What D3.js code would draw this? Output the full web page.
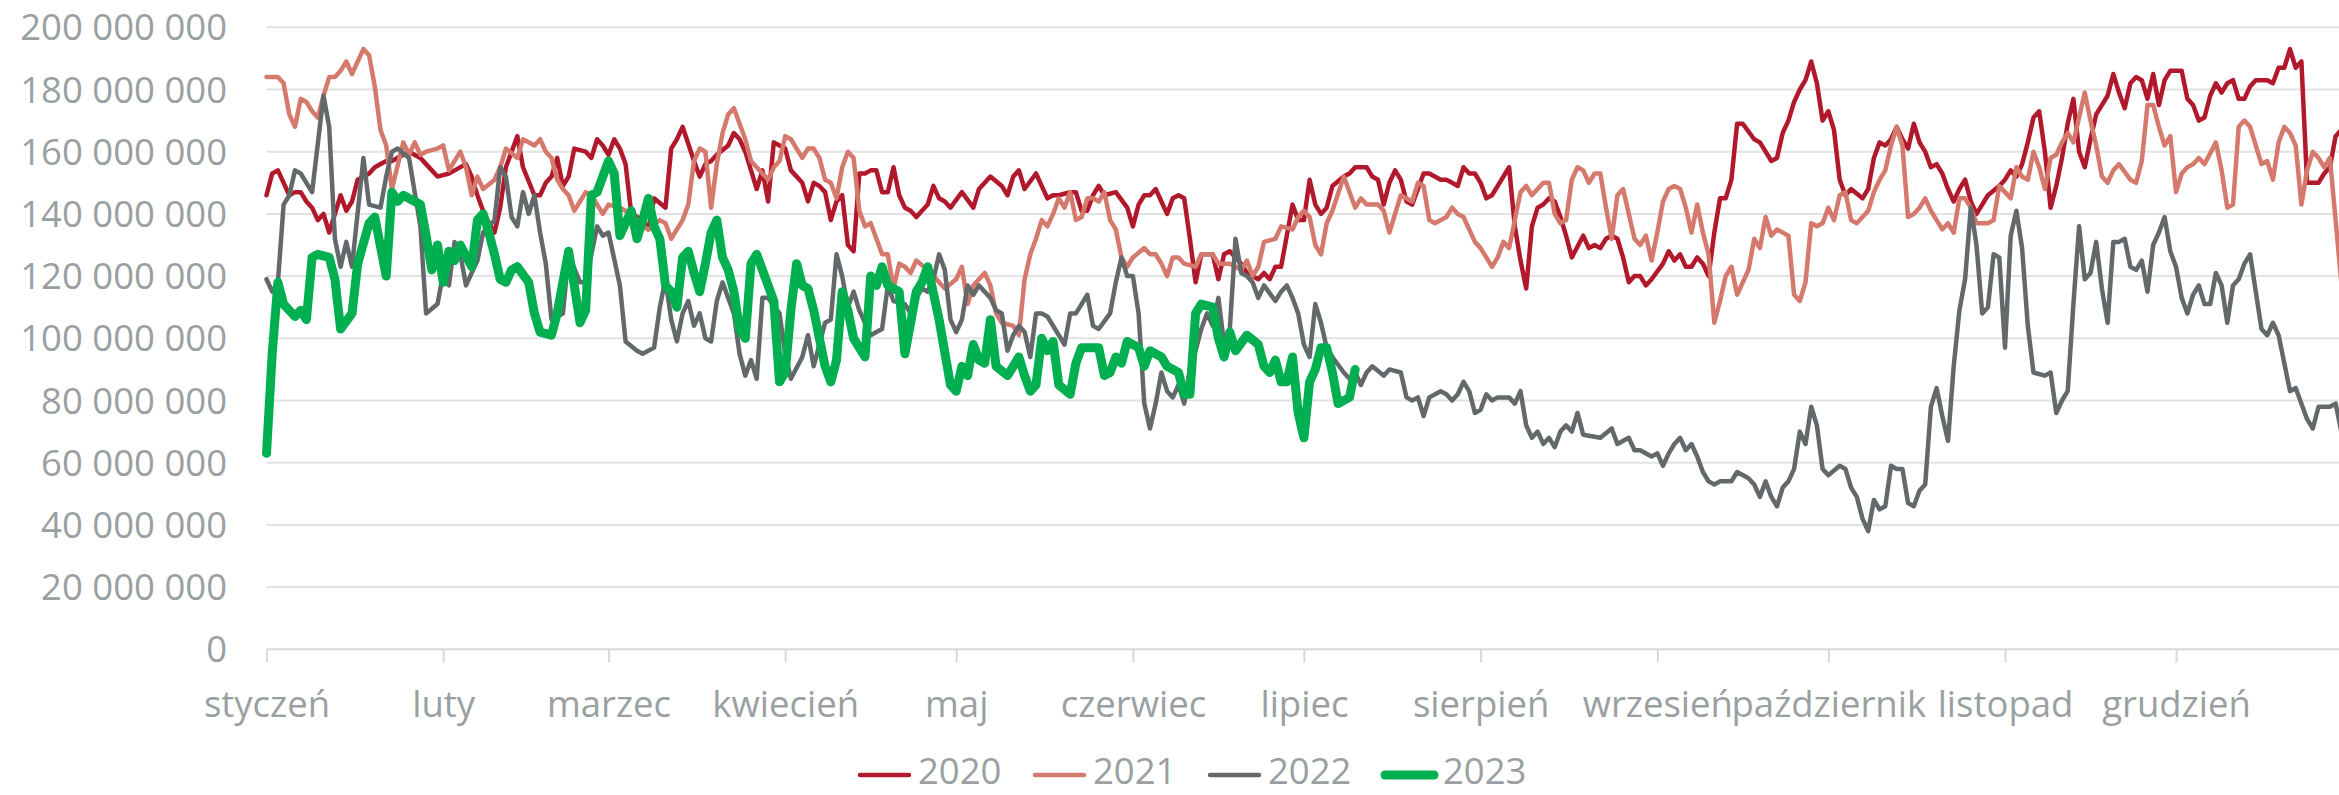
<!DOCTYPE html>
<html>
<head>
<meta charset="utf-8">
<script src="https://cdn.jsdelivr.net/npm/d3@7"></script>
<style>
  html, body { margin: 0; padding: 0; background: #ffffff; }
  svg { display: block; font-family: "Open Sans", "DejaVu Sans", sans-serif; }
</style>
</head>
<body>
<svg id="chart" width="2339" height="795"></svg>
<script>
// ---- data -------------------------------------------------------------
// Month labels and the day-of-year on which each month starts.
const monthLabels = ["styczeń", "luty", "marzec", "kwiecień", "maj", "czerwiec",
  "lipiec", "sierpień", "wrzesień", "październik", "listopad", "grudzień"];
const monthStartDays = [0, 31, 60, 91, 121, 152, 182, 213, 244, 274, 305, 335];

// Value axis ticks, in millions.
const yTicks = [0, 20, 40, 60, 80, 100, 120, 140, 160, 180, 200];

const seriesNames = ["2020", "2021", "2022", "2023"];
const seriesColors = ["#B2182B", "#D4796B", "#63686B", "#00B050"];

// Daily values: [day of year, value in millions].
const values2020 = [[0,146],[1,153],[2,154],[4,146],[5,147],[6,147],[7,144],[8,142],[9,138],[10,140],[11,134],[13,146],[14,141],[15,144],[16,151],[18,153],[19,155],[21,157],[22,157],[24,159],[25,160],[27,158],[28,156],[30,152],[32,153],[33,154],[35,156],[36,152],[37,146],[38,141],[39,137],[40,134],[41,142],[42,155],[44,165],[45,155],[47,146],[48,146],[49,150],[50,152],[51,158],[52,149],[53,152],[54,161],[56,160],[57,158],[58,164],[59,162],[60,159],[61,164],[62,161],[63,156],[64,140],[65,139],[66,138],[67,135],[68,145],[70,142],[71,161],[72,164],[73,168],[75,157],[76,152],[77,156],[78,157],[79,159],[81,162],[82,166],[83,164],[84,160],[85,154],[86,148],[87,154],[88,144],[89,163],[90,162],[91,161],[92,154],[94,150],[95,144],[96,150],[97,149],[98,147],[99,138],[100,144],[101,146],[102,130],[103,128],[104,153],[105,153],[106,154],[107,154],[108,147],[109,147],[110,155],[111,146],[112,142],[113,141],[114,139],[116,143],[117,149],[118,145],[119,144],[120,142],[122,147],[124,142],[125,148],[127,152],[129,149],[130,146],[131,152],[132,154],[133,148],[135,153],[136,149],[137,145],[138,146],[139,146],[141,147],[142,147],[143,141],[144,141],[145,146],[146,149],[147,146],[149,147],[151,142],[152,136],[153,143],[154,146],[155,146],[156,148],[157,144],[158,140],[159,145],[160,146],[161,145],[162,132],[163,118],[164,127],[165,127],[166,127],[167,119],[168,127],[169,128],[171,124],[172,121],[174,119],[175,121],[176,119],[177,123],[178,123],[180,143],[181,138],[182,138],[183,151],[184,143],[185,140],[186,142],[187,149],[189,152],[190,153],[191,155],[192,155],[193,155],[194,152],[195,151],[196,143],[197,150],[198,154],[199,151],[200,144],[201,143],[203,153],[204,153],[206,151],[207,151],[208,150],[209,149],[210,155],[211,153],[212,153],[213,150],[214,145],[215,146],[218,155],[219,136],[220,125],[221,116],[222,136],[223,142],[224,143],[225,145],[226,144],[227,139],[228,133],[229,126],[231,133],[232,129],[233,130],[234,129],[235,132],[236,133],[237,132],[238,126],[239,118],[240,120],[241,120],[242,117],[243,119],[245,124],[246,128],[247,125],[248,127],[249,123],[250,123],[251,126],[252,124],[253,120],[254,134],[255,145],[256,145],[257,151],[258,169],[259,169],[261,164],[262,163],[263,160],[264,157],[265,158],[266,166],[267,170],[268,176],[269,180],[270,183],[271,189],[272,182],[273,170],[274,173],[275,167],[276,151],[277,146],[278,148],[280,145],[281,148],[282,158],[283,163],[284,162],[285,164],[286,168],[287,164],[288,161],[289,169],[290,163],[291,160],[292,155],[293,156],[294,153],[295,148],[296,144],[297,148],[298,151],[299,144],[300,140],[301,143],[302,146],[304,149],[305,151],[306,154],[307,152],[308,156],[309,163],[310,171],[311,173],[312,160],[313,142],[314,149],[315,158],[316,169],[317,177],[318,160],[319,155],[320,164],[321,172],[322,175],[323,178],[324,185],[325,179],[326,174],[327,182],[328,184],[329,183],[330,177],[331,185],[332,175],[333,183],[334,186],[336,186],[337,177],[338,175],[339,170],[340,171],[341,178],[342,182],[343,179],[344,182],[345,183],[346,177],[347,177],[348,181],[349,183],[351,183],[352,182],[353,187],[354,187],[355,193],[356,187],[357,189],[358,150],[359,150],[360,150],[361,153],[362,155],[363,165],[364,167]];

const values2021 = [[0,184],[2,184],[3,182],[4,172],[5,168],[6,177],[7,176],[8,173],[9,171],[10,178],[11,184],[12,184],[13,186],[14,189],[15,185],[16,189],[17,193],[18,191],[19,181],[20,167],[21,162],[22,148],[24,163],[25,159],[26,163],[27,159],[28,160],[30,161],[31,162],[32,154],[34,160],[35,155],[36,146],[37,152],[38,148],[40,151],[41,155],[42,161],[44,158],[45,164],[47,162],[48,164],[49,160],[50,158],[51,151],[52,148],[53,146],[54,141],[56,147],[57,146],[59,140],[60,143],[62,142],[64,140],[66,136],[67,135],[69,138],[70,137],[71,132],[73,138],[74,143],[75,157],[76,161],[77,160],[78,142],[79,156],[80,166],[81,172],[82,174],[84,164],[85,157],[86,155],[88,151],[89,155],[90,157],[91,165],[92,164],[94,158],[95,161],[96,161],[97,158],[98,151],[99,150],[100,145],[101,155],[102,160],[103,158],[104,141],[105,136],[106,137],[107,132],[108,127],[109,127],[110,116],[111,124],[112,123],[113,121],[114,125],[116,122],[117,120],[118,118],[119,116],[121,119],[122,123],[123,111],[124,117],[126,121],[127,117],[128,108],[129,105],[131,104],[132,101],[133,119],[134,127],[135,132],[136,138],[137,136],[138,140],[139,145],[140,142],[141,147],[142,138],[143,139],[144,145],[145,145],[146,144],[147,147],[148,138],[149,135],[150,126],[151,123],[152,126],[154,129],[155,127],[156,127],[157,124],[158,120],[159,126],[160,126],[161,124],[163,123],[164,127],[166,127],[167,124],[169,124],[171,122],[172,125],[173,120],[174,123],[175,131],[177,132],[178,136],[180,135],[181,139],[182,141],[183,139],[184,130],[185,127],[186,137],[187,141],[189,152],[190,147],[191,142],[192,145],[193,143],[195,143],[196,141],[197,134],[198,140],[199,146],[201,144],[202,150],[203,149],[204,138],[205,137],[207,139],[208,142],[209,140],[210,139],[212,131],[213,129],[214,126],[215,123],[216,126],[217,131],[218,129],[220,147],[221,149],[222,146],[224,150],[225,150],[226,140],[227,137],[228,138],[229,151],[230,155],[231,154],[232,150],[233,153],[234,153],[235,142],[236,132],[237,146],[238,148],[240,132],[241,130],[242,133],[243,125],[244,134],[245,144],[246,148],[247,149],[248,148],[249,142],[250,134],[251,143],[252,134],[253,127],[254,105],[255,112],[256,120],[257,123],[258,114],[260,122],[261,132],[262,129],[263,139],[264,133],[265,135],[267,133],[268,114],[269,112],[270,118],[271,137],[272,136],[273,137],[274,142],[275,138],[276,146],[277,147],[278,138],[279,137],[280,139],[281,141],[282,147],[283,151],[284,154],[285,162],[286,168],[287,162],[288,139],[289,140],[290,142],[291,145],[292,141],[293,138],[294,135],[295,137],[296,134],[297,145],[298,145],[299,142],[300,137],[302,137],[303,138],[304,149],[305,147],[306,145],[307,155],[308,152],[309,151],[310,160],[311,155],[312,148],[313,158],[314,159],[315,163],[316,166],[317,163],[318,171],[319,179],[320,170],[321,162],[322,152],[323,150],[324,154],[325,156],[327,151],[328,150],[329,157],[330,175],[331,175],[332,168],[333,162],[334,165],[335,147],[336,153],[337,155],[338,156],[339,158],[340,156],[342,163],[343,154],[344,142],[345,143],[346,168],[347,170],[348,168],[350,156],[351,157],[352,151],[353,163],[354,168],[355,166],[356,162],[357,143],[358,154],[359,160],[360,158],[361,155],[362,158],[363,138],[364,118]];

const values2022 = [[0,119],[1,115],[2,118],[3,143],[4,146],[5,154],[6,153],[7,150],[8,147],[10,178],[11,168],[12,132],[13,123],[14,131],[15,123],[17,158],[18,143],[20,142],[21,152],[22,160],[23,161],[25,158],[26,147],[27,136],[28,108],[30,111],[31,121],[32,117],[33,131],[34,127],[35,117],[37,125],[38,134],[39,136],[40,138],[41,155],[42,152],[43,139],[44,136],[45,147],[46,140],[47,146],[48,134],[49,124],[50,106],[52,108],[53,127],[55,118],[56,118],[58,136],[59,133],[60,134],[62,117],[63,99],[65,96],[66,95],[68,97],[69,110],[70,119],[71,106],[72,99],[73,108],[74,112],[75,104],[76,108],[77,100],[78,99],[79,112],[80,118],[81,113],[82,108],[83,95],[84,88],[85,93],[86,87],[87,113],[88,113],[90,108],[91,95],[92,87],[94,94],[95,101],[96,91],[98,105],[99,106],[100,127],[101,120],[102,110],[103,115],[104,109],[106,101],[107,102],[108,103],[109,117],[110,112],[112,111],[113,108],[114,113],[115,116],[116,115],[117,119],[118,127],[119,122],[120,106],[121,102],[122,106],[123,117],[124,114],[125,117],[127,113],[128,109],[129,108],[130,96],[131,101],[132,104],[133,102],[134,94],[135,108],[136,108],[137,107],[139,101],[140,98],[141,108],[142,108],[143,111],[144,114],[145,104],[146,103],[148,108],[149,118],[150,126],[151,120],[152,120],[153,108],[154,79],[155,71],[156,79],[157,89],[158,83],[159,81],[160,85],[161,79],[162,90],[163,96],[164,103],[165,108],[166,104],[167,113],[168,98],[169,103],[170,132],[171,121],[172,120],[173,118],[174,113],[175,117],[177,112],[178,115],[179,117],[180,113],[181,108],[182,98],[183,94],[184,111],[185,105],[186,97],[187,94],[189,89],[190,87],[191,89],[192,85],[193,89],[194,91],[196,88],[197,90],[199,89],[200,81],[201,80],[202,81],[203,75],[204,81],[206,83],[207,82],[208,80],[209,82],[210,86],[211,83],[212,76],[213,77],[214,82],[215,80],[216,81],[218,81],[219,79],[220,83],[221,72],[222,68],[223,70],[224,66],[225,68],[226,65],[227,70],[228,72],[229,70],[230,76],[231,69],[234,68],[236,71],[237,66],[239,68],[240,64],[241,64],[243,62],[244,63],[245,59],[246,63],[247,66],[248,68],[249,64],[250,66],[251,62],[252,57],[253,54],[254,53],[255,54],[257,54],[258,57],[260,55],[261,53],[262,49],[263,54],[264,49],[265,46],[266,52],[267,54],[268,58],[269,70],[270,66],[271,78],[272,72],[273,58],[274,56],[276,59],[277,58],[278,52],[279,49],[280,42],[281,38],[282,48],[283,45],[284,46],[285,59],[286,58],[287,58],[288,47],[289,46],[290,51],[291,53],[292,78],[293,84],[294,75],[295,67],[296,91],[297,109],[298,119],[299,142],[300,130],[301,108],[302,110],[303,127],[304,126],[305,97],[306,133],[307,141],[308,129],[309,104],[310,89],[312,88],[313,89],[314,76],[315,80],[316,83],[317,111],[318,136],[319,119],[320,121],[321,131],[322,116],[323,105],[324,131],[325,131],[326,132],[327,123],[328,122],[329,125],[330,115],[331,130],[332,134],[333,139],[334,128],[335,123],[336,113],[337,108],[338,114],[339,117],[340,111],[341,111],[342,121],[343,117],[344,105],[345,117],[346,119],[347,124],[348,127],[350,103],[351,101],[352,105],[353,101],[355,83],[356,84],[358,74],[359,71],[360,78],[362,78],[363,79],[364,70]];

const values2023 = [[0,63],[1,95],[2,118],[3,111],[5,107],[6,109],[7,106],[8,126],[9,127],[11,126],[12,119],[13,103],[15,108],[16,124],[18,137],[19,139],[21,120],[22,147],[23,144],[24,146],[27,143],[28,133],[29,122],[30,130],[31,118],[32,128],[33,125],[34,130],[36,123],[37,138],[38,140],[39,134],[40,127],[41,119],[42,118],[43,122],[44,123],[46,118],[47,108],[48,102],[50,101],[51,108],[53,128],[54,117],[55,105],[56,109],[57,146],[58,147],[59,152],[60,157],[61,153],[62,133],[63,137],[64,141],[65,132],[66,138],[67,145],[68,136],[69,132],[70,117],[71,115],[72,110],[73,126],[74,128],[75,121],[76,115],[77,124],[78,134],[79,138],[80,126],[81,122],[82,115],[83,103],[84,100],[85,124],[86,127],[87,122],[89,112],[90,86],[91,89],[92,109],[93,124],[94,117],[95,116],[96,109],[98,91],[99,86],[100,93],[101,115],[102,109],[103,100],[105,94],[106,120],[107,117],[108,123],[109,117],[111,115],[112,95],[114,115],[115,118],[116,123],[118,106],[120,85],[121,83],[122,91],[123,88],[124,98],[125,93],[126,92],[127,106],[128,91],[130,88],[131,91],[132,94],[133,88],[134,83],[135,85],[136,100],[137,96],[138,99],[139,85],[141,82],[142,92],[143,97],[144,97],[146,97],[147,88],[148,89],[149,94],[150,92],[151,99],[153,97],[154,91],[155,96],[157,94],[158,91],[160,89],[161,82],[162,82],[163,108],[164,111],[166,110],[167,100],[168,94],[169,102],[170,96],[172,101],[174,98],[175,91],[176,89],[177,93],[178,86],[179,86],[180,94],[181,76],[182,68],[183,86],[184,90],[185,97],[186,97],[187,89],[188,79],[190,81],[191,90]];

const seriesValues = [values2020, values2021, values2022, values2023];

// ---- layout -----------------------------------------------------------
const width = 2339, height = 795;
const plotLeft = 266.5, dayWidth = 5.70;
const plotTop = 27.3, plotBottom = 649.3;
const textColor = "#9A9FA2";
const gridColor = "#E2E2E2";
const fontSize = 36.5;
const lineWidths = [4.5, 4.5, 4.5, 9];

const svg = d3.select("#chart");
svg.append("rect").attr("width", width).attr("height", height).attr("fill", "#ffffff");

const x = d3.scaleLinear().domain([0, 366]).range([plotLeft, plotLeft + 366 * dayWidth]);
const y = d3.scaleLinear().domain([0, 200]).range([plotBottom, plotTop]);

const fmt = d3.formatLocale({ decimal: ",", thousands: "\u00a0", grouping: [3], currency: ["", ""] }).format(",d");

// horizontal gridlines
svg.append("g").selectAll("line")
  .data(yTicks.filter(v => v > 0))
  .join("line")
  .attr("x1", plotLeft).attr("x2", width)
  .attr("y1", d => y(d)).attr("y2", d => y(d))
  .attr("stroke", gridColor).attr("stroke-width", 2);

// value axis labels
svg.append("g").selectAll("text")
  .data(yTicks)
  .join("text")
  .attr("x", 227).attr("y", d => y(d)).attr("dy", "0.36em")
  .attr("text-anchor", "end")
  .attr("fill", textColor).attr("font-size", fontSize)
  .text(d => fmt(d * 1e6));

// category axis: baseline, month ticks and labels
const xAxis = d3.axisBottom(x)
  .tickValues(monthStartDays)
  .tickSize(13)
  .tickSizeOuter(0)
  .tickFormat((d, i) => monthLabels[i]);
const axisG = svg.append("g").attr("transform", `translate(0,${plotBottom})`).call(xAxis);
axisG.select(".domain").attr("stroke", "#D9D9D9").attr("stroke-width", 2)
  .attr("d", `M${plotLeft},0H${width}`);
axisG.selectAll(".tick line").attr("stroke", "#D9D9D9").attr("stroke-width", 2);
axisG.selectAll(".tick text")
  .attr("y", 68).attr("dy", 0)
  .attr("fill", textColor).attr("font-size", fontSize)
  .attr("font-family", "\"Open Sans\", sans-serif");

// series lines
const line = d3.line().x(d => x(d[0])).y(d => y(d[1]));
svg.append("g").selectAll("path")
  .data(seriesValues)
  .join("path")
  .attr("d", line)
  .attr("fill", "none")
  .attr("stroke", (d, i) => seriesColors[i])
  .attr("stroke-width", (d, i) => lineWidths[i])
  .attr("stroke-linejoin", "round")
  .attr("stroke-linecap", "round");

// legend (kept clear of the bottom edge)
const legendLineY = 775, legendTextBaseline = 784, legendStart = 857, legendStep = 175;
const legend = svg.append("g");
seriesNames.forEach((name, i) => {
  const gx = legendStart + i * legendStep;
  legend.append("line")
    .attr("x1", gx + 3).attr("x2", gx + 52)
    .attr("y1", legendLineY).attr("y2", legendLineY)
    .attr("stroke", seriesColors[i]).attr("stroke-width", lineWidths[i])
    .attr("stroke-linecap", "round");
  legend.append("text")
    .attr("x", gx + 61).attr("y", legendTextBaseline)
    .attr("fill", textColor).attr("font-size", fontSize)
    .text(name);
});
</script>
</body>
</html>
